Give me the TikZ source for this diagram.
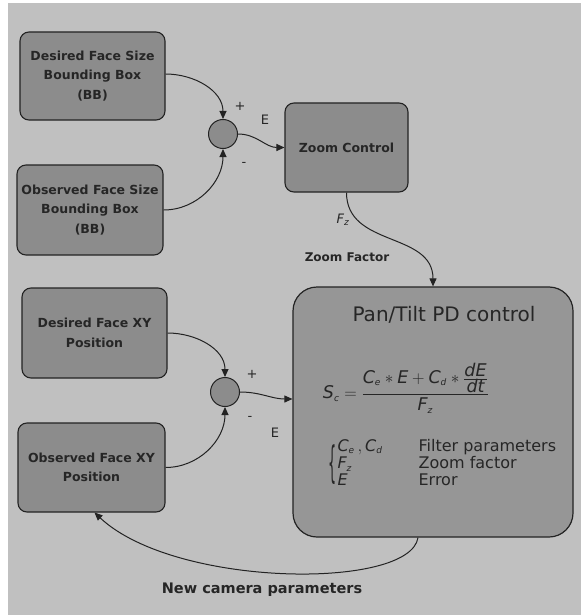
\documentclass[tikz,border=0pt]{standalone}
\usepackage{fontspec}
\usepackage{graphicx}
\setmainfont{DejaVu Sans}
\usetikzlibrary{arrows.meta}
\definecolor{bgc}{RGB}{192,192,192}
\definecolor{boxc}{RGB}{140,140,140}
\definecolor{bigc}{RGB}{150,150,150}
\definecolor{linec}{RGB}{35,35,35}
\newcommand\iv[1]{\mbox{\itshape #1}}
\newcommand\isub[1]{\mbox{\itshape\fontsize{9}{9}\selectfont #1}}
\tikzset{
  inbox/.style={draw=linec, line width=1.1pt, fill=boxc, rounded corners=9pt,
    align=center, font=\bfseries\fontsize{12.5}{19.5}\selectfont, text=black!85, inner sep=0pt},
  sumc/.style={circle, draw=linec, line width=1pt, fill=boxc, minimum size=29pt, inner sep=0pt},
  conn/.style={draw=linec, line width=1pt, -{Triangle[length=8pt,width=7pt]}},
  lbl/.style={font=\fontsize{13}{14}\selectfont, text=black!85},
}
\begin{document}
\begin{tikzpicture}[x=1pt,y=-1pt]
\useasboundingbox (0,0) rectangle (581,615);
\fill[white] (0,0) rectangle (581,615);
\fill[bgc] (8,3) rectangle (581,615);

% boxes
\node[inbox, minimum width=145pt, minimum height=88pt] (dsz) at (92.5,76) {Desired Face Size\\Bounding Box\\(BB)};
\node[inbox, minimum width=146pt, minimum height=90pt] (osz) at (90,210) {Observed Face Size\\Bounding Box\\(BB)};
\node[inbox, minimum width=145pt, minimum height=90pt] (dxy) at (94.5,333) {Desired Face XY\\Position};
\node[inbox, minimum width=147pt, minimum height=89pt] (oxy) at (91.5,467.5) {Observed Face XY\\Position};
\node[inbox, minimum width=123pt, minimum height=89pt] (zc) at (346.5,147.5) {Zoom Control};
\node[draw=linec, line width=1.2pt, fill=bigc, rounded corners=24pt, minimum width=280pt, minimum height=250pt] (pt) at (433,412) {};

\node[sumc] (s1) at (223,134) {};
\node[sumc] (s2) at (225,392) {};

% pan/tilt contents
\node[font=\fontsize{20}{22}\selectfont, text=black!85] (ptt) at (444,315) {Pan/Tilt PD control};
\node[font=\fontsize{17.5}{19}\selectfont, text=black!85] (fml) at (406,388)
  {$\iv{S}_{\isub{c}} = \displaystyle\frac{\iv{C}_{\isub{e}}\ast\iv{E}+\iv{C}_{\isub{d}}\ast\frac{\iv{dE}}{\iv{dt}}}{\iv{F}_{\isub{z}}}$};
\node[font=\fontsize{16}{17}\selectfont, text=black!85, inner sep=0pt] (brc) at (333,465)
  {\scalebox{0.8}[2.7]{\{}};
\node[anchor=west, font=\fontsize{16}{17}\selectfont, text=black!85] (leg) at (334,465)
  {$\renewcommand\arraystretch{1}\begin{array}{@{}l@{\hspace{36pt}}l@{}}
   \iv{C}_{\isub{e}}\,,\iv{C}_{\isub{d}} & \mbox{Filter parameters}\\
   \iv{F}_{\isub{z}} & \mbox{Zoom factor}\\
   \iv{E} & \mbox{Error}
   \end{array}$};

% connectors
\draw[conn] (dsz.east) ++(0,-2) coordinate (a1) (a1) to[out=0,in=90] (s1.north);
\draw[conn] (osz.east) to[out=0,in=-90] (s1.south);
\draw[conn] (s1.east) to[out=0,in=180] (zc.west);
\draw[conn] (zc.south) to[out=-90,in=90,looseness=1.1] (pt.north);
\draw[conn] (dxy.east) to[out=0,in=90] (s2.north);
\draw[conn] (oxy.east) to[out=0,in=-90] (s2.south);
\draw[conn] (s2.east) to[out=0,in=180] ([yshift=13pt]pt.west);
\coordinate (fb) at ([xshift=-15pt]pt.south);
\coordinate (ob) at ([xshift=3pt]oxy.south);
\draw[conn] (fb) .. controls (410,590) and (175,588) .. (ob);

% labels
\node[lbl] (p1) at (240,106) {+};
\node[lbl] (e1) at (265,120) {E};
\node[lbl] (m1) at (244,164) {-};
\node[lbl, font=\fontsize{13}{14}\selectfont] (fz) at (343,220) {$\iv{F}_{\isub{z}}$};
\node[lbl, font=\bfseries\fontsize{12}{14}\selectfont] (zf) at (347,257) {Zoom Factor};
\node[lbl] (p2) at (252,374) {+};
\node[lbl] (m2) at (250,418) {-};
\node[lbl] (e2) at (275,433) {E};
\node[font=\bfseries\fontsize{14.5}{16}\selectfont, text=black!85] (ncp) at (262,590) {New camera parameters};
\end{tikzpicture}
\end{document}
